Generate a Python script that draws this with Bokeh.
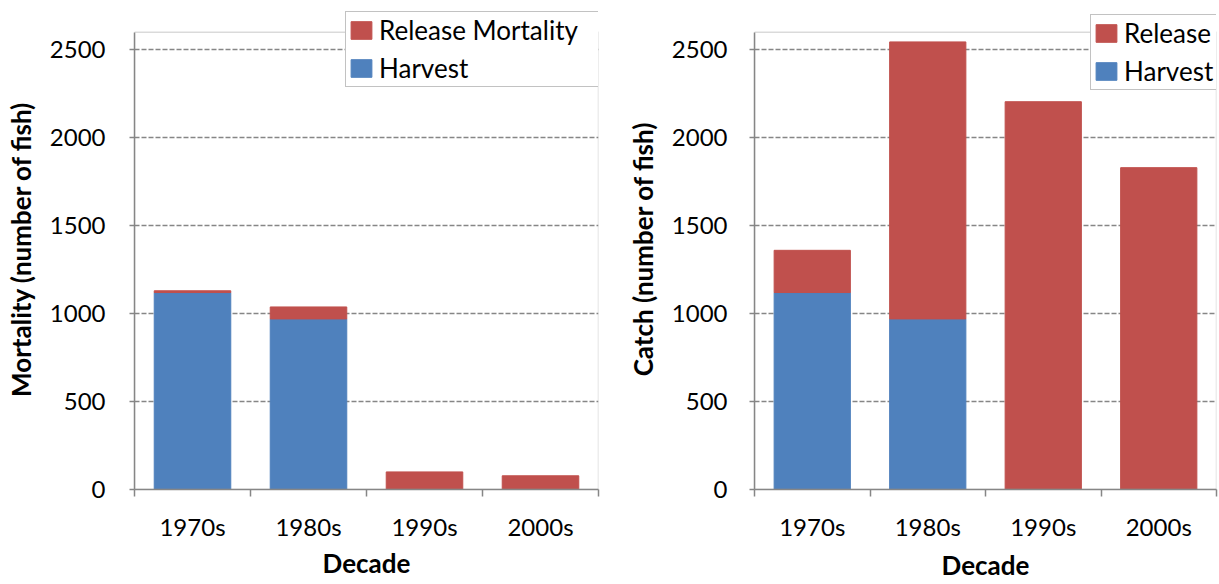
from bokeh.plotting import figure
from bokeh.layouts import row
from bokeh.models import Range1d, FixedTicker, Legend, LegendItem, ColumnDataSource, BoxAnnotation
from bokeh.embed import file_html
from bokeh.resources import INLINE

# ---- data ----
decades = ["1970s", "1980s", "1990s", "2000s"]
mort_harvest = [1120, 970, 0, 0]
mort_release = [10, 68, 100, 78]
catch_harvest = [1120, 970, 0, 0]
catch_release = [240, 1575, 2205, 1830]
y_ticks = [0, 500, 1000, 1500, 2000, 2500]
Y_MAX = 2600      # top of the plot-area box
Y_TOP = 2735      # extra headroom above the box where the legend sits

BLUE = "#4F81BD"
RED = "#C0504D"
GRAY = "#868686"
FONT = "Lato"


def make_chart(harvest, release, ylabel, rel_label, width, border_left, border_right,
               border_bottom, ylab_standoff, xlab_standoff, legend_loc, label_width):
    xs = [i + 0.5 for i in range(len(decades))]
    src = ColumnDataSource(dict(x=xs, harvest=harvest, release=release))
    p = figure(width=width, height=584, output_backend="svg", toolbar_location=None,
               x_range=Range1d(0, len(decades)), y_range=Range1d(0, Y_TOP),
               min_border_left=border_left, min_border_right=border_right,
               min_border_top=8, min_border_bottom=border_bottom)
    p.background_fill_color = "white"
    p.border_fill_color = "white"
    p.outline_line_color = None

    p.xgrid.visible = False
    p.ygrid.ticker = FixedTicker(ticks=y_ticks[1:])
    p.ygrid.grid_line_color = GRAY
    p.ygrid.grid_line_width = 1.3
    p.ygrid.grid_line_dash = "5 2"

    rs = p.vbar_stack(["harvest", "release"], x="x", width=0.66, color=[BLUE, RED],
                      source=src, line_color=[BLUE, RED])

    # plot-area box (Excel style frame)
    p.add_layout(BoxAnnotation(left=0, right=len(decades), bottom=0, top=Y_MAX,
                               fill_alpha=0, line_color=GRAY, line_width=1.5))

    # x axis: labels at category centres, ticks at category boundaries
    xa = p.xaxis[0]
    xa.ticker = FixedTicker(ticks=xs, minor_ticks=list(range(len(decades) + 1)))
    xa.major_label_overrides = {x: d for x, d in zip(xs, decades)}
    xa.major_tick_out = 0
    xa.major_tick_in = 0
    xa.minor_tick_out = 7
    xa.minor_tick_in = 0
    xa.minor_tick_line_color = GRAY
    xa.minor_tick_line_width = 1.5
    xa.axis_line_color = GRAY
    xa.axis_line_width = 1.5
    xa.major_label_standoff = 15
    xa.major_label_text_font = FONT
    xa.major_label_text_font_size = "24px"
    xa.major_label_text_color = "black"
    xa.axis_label = "Decade"
    xa.axis_label_text_font = FONT
    xa.axis_label_text_font_size = "26px"
    xa.axis_label_text_font_style = "bold"
    xa.axis_label_text_color = "black"
    xa.axis_label_standoff = xlab_standoff

    ya = p.yaxis[0]
    ya.ticker = FixedTicker(ticks=y_ticks)
    ya.bounds = (0, Y_MAX)
    ya.major_tick_out = 5
    ya.major_tick_in = 0
    ya.major_tick_line_color = GRAY
    ya.major_tick_line_width = 1.5
    ya.minor_tick_line_color = None
    ya.axis_line_color = GRAY
    ya.axis_line_width = 1.5
    ya.major_label_standoff = ylab_standoff
    ya.major_label_text_font = FONT
    ya.major_label_text_font_size = "24px"
    ya.major_label_text_color = "black"
    ya.axis_label = ylabel
    ya.axis_label_text_font = FONT
    ya.axis_label_text_font_size = "26px"
    ya.axis_label_text_font_style = "bold"
    ya.axis_label_text_color = "black"
    ya.axis_label_standoff = 10

    legend = Legend(items=[LegendItem(label=rel_label, renderers=[rs[1]]),
                           LegendItem(label="Harvest", renderers=[rs[0]])],
                    location=legend_loc, orientation="vertical")
    legend.padding = 2
    legend.spacing = 6
    legend.margin = 0
    legend.glyph_width = 26
    legend.glyph_height = 22
    legend.label_height = 22
    legend.label_width = label_width
    legend.label_standoff = 5
    legend.label_text_font = FONT
    legend.label_text_font_size = "26px"
    legend.label_text_color = "black"
    legend.border_line_color = GRAY
    legend.border_line_width = 1.5
    legend.background_fill_color = "white"
    legend.background_fill_alpha = 1.0
    p.add_layout(legend)
    return p


left = make_chart(mort_harvest, mort_release, "Mortality (number of fish)", "Release Mortality",
                  width=620, border_left=134, border_right=22, border_bottom=93,
                  ylab_standoff=24, xlab_standoff=3, legend_loc=(211, 402), label_width=223)
right = make_chart(catch_harvest, catch_release, "Catch (number of fish)", "Release",
                   width=599, border_left=134, border_right=3, border_bottom=95,
                   ylab_standoff=22, xlab_standoff=5, legend_loc=(336, 399), label_width=223)

layout = row(left, right, spacing=0)
open("out.html", "w").write(file_html(layout, INLINE))
